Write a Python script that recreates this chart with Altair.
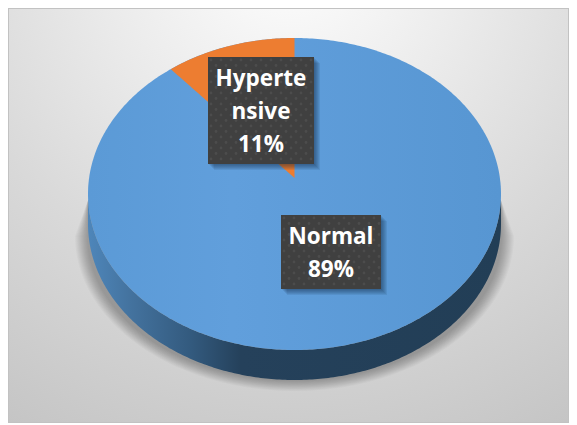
import altair as alt
import numpy as np
import pandas as pd

# --- values
categories = ["Normal", "Hypertensive"]
shares = [89, 11]
label_lines = [["Normal", "89%"], ["Hyperte", "nsive", "11%"]]

# --- layout (page pixels)
LEFT, RIGHT, TOP, BOTTOM = 8, 569, 8, 423
CX, CY, RX, RY, DEPTH = 294.5, 194, 206.5, 156, 30
APEX_Y = 178
FORESHORTEN = 0.93
SHADOW_FLOOR = 391
SHADOW_TOP = 200
SHADOW_WAIST = 236
BOXES = [(281, 381, 215, 289), (208, 314, 57, 164)]
LINE_Y = [[237, 270], [79, 112, 145]]

X = alt.X("x:Q", axis=None, scale=alt.Scale(domain=[LEFT, RIGHT], nice=False, zero=False))
Y = alt.Y("y:Q", axis=None, scale=alt.Scale(domain=[BOTTOM, TOP], nice=False, zero=False))

def grad(stops, **kw):
    return alt.LinearGradient(gradient="linear",
                              stops=[alt.GradientStop(offset=o, color=c) for o, c in stops],
                              x1=0, x2=1, y1=0, y2=0, **kw)

def ellipse_xs(x0=-1.0, x1=1.0, n=240):
    t = np.linspace(np.arccos(x1), np.arccos(x0), n)
    return np.cos(t)

# background
bg = alt.Chart(pd.DataFrame({"x": [LEFT], "x2": [RIGHT], "y": [TOP], "y2": [BOTTOM]})).mark_rect(
    fill=alt.RadialGradient(
        gradient="radial", x1=0.5, y1=0.02, x2=0.5, y2=0.02, r1=0.0, r2=1.0,
        stops=[alt.GradientStop(offset=0, color="#ffffff"),
               alt.GradientStop(offset=0.3, color="#ededed"),
               alt.GradientStop(offset=0.62, color="#d9d9d9"),
               alt.GradientStop(offset=1, color="#c4c4c4")]),
    stroke="#c2c2c2", strokeWidth=2,
).encode(x=X, x2="x2:Q", y=Y, y2="y2:Q")

# soft shadow below the pie
shadow_layers = []
for grow in range(1, 14):
    u = ellipse_xs()
    rx = RX + grow
    dx = np.abs(rx * u)
    yb = np.minimum(SHADOW_WAIST + (RY - 12 + grow * 0.85) * np.sqrt(1 - u ** 2), SHADOW_FLOOR)
    yt = SHADOW_TOP + np.maximum(0, dx - RX) * (SHADOW_WAIST - SHADOW_TOP) / grow
    df = pd.DataFrame({"x": CX + rx * u, "y": yb, "y2": yt})
    shadow_layers.append(alt.Chart(df).mark_area(color="#000000", opacity=0.022).encode(x=X, y=Y, y2="y2:Q"))

# side wall
u = ellipse_xs()
side_df = pd.DataFrame({"x": CX + RX * u,
                        "y": CY + DEPTH + RY * np.sqrt(1 - u ** 2),
                        "y2": CY + RY * np.sqrt(1 - u ** 2)})
side = alt.Chart(side_df).mark_area(
    fill=grad([(0, "#4e86ba"), (0.1, "#44739f"), (0.25, "#335a7e"), (0.37, "#25415b"), (1, "#223e56")])
).encode(x=X, y=Y, y2="y2:Q")

# top face
top_df = pd.DataFrame({"x": CX + RX * u,
                       "y": CY - RY * np.sqrt(1 - u ** 2),
                       "y2": CY + RY * np.sqrt(1 - u ** 2)})
top = alt.Chart(top_df).mark_area(
    fill=grad([(0, "#5b9ad6"), (0.35, "#619fdc"), (1, "#5796d2")])
).encode(x=X, y=Y, y2="y2:Q")

# orange slice, from the top of the pie running counter-clockwise
theta = 2 * np.pi * shares[1] / sum(shares) * FORESHORTEN
u_end = -np.sin(theta)
uw = ellipse_xs(u_end, 0.0, 80)
rim_start = CY - RY * np.sqrt(1 - u_end ** 2)
wedge_df = pd.DataFrame({"x": CX + RX * uw,
                         "y": CY - RY * np.sqrt(1 - uw ** 2),
                         "y2": rim_start + (APEX_Y - rim_start) * (uw - u_end) / (0 - u_end)})
wedge = alt.Chart(wedge_df).mark_area(color="#ed7d31").encode(x=X, y=Y, y2="y2:Q")

# label boxes
layers_boxes = []
for (x0, x1, y0, y1), ys, lines in zip(BOXES, LINE_Y, label_lines):
    for off in range(1, 7):
        sd = pd.DataFrame({"x": [x0 + off], "x2": [x1 + off], "y": [y0 + off], "y2": [y1 + off]})
        layers_boxes.append(alt.Chart(sd).mark_rect(color="#0b2238", opacity=0.09)
                            .encode(x=X, x2="x2:Q", y=Y, y2="y2:Q"))
    bd = pd.DataFrame({"x": [x0], "x2": [x1], "y": [y0], "y2": [y1]})
    layers_boxes.append(alt.Chart(bd).mark_rect(color="#404040").encode(x=X, x2="x2:Q", y=Y, y2="y2:Q"))
    # dotted texture
    rows = []
    for j, yy in enumerate(np.arange(y0 + 3, y1, 5.5)):
        for xx in np.arange(x0 + (3 if j % 2 == 0 else 8), x1 - 1, 10):
            rows.append({"x": float(xx), "y": float(yy)})
    layers_boxes.append(alt.Chart(pd.DataFrame(rows)).mark_circle(color="#4e4e4e", size=8, opacity=0.9)
                        .encode(x=X, y=Y))
    td = pd.DataFrame({"x": [(x0 + x1) / 2] * len(lines), "y": ys, "t": lines})
    layers_boxes.append(alt.Chart(td).mark_text(
        font="Open Sans", fontWeight="bold", fontSize=22.5, color="#ffffff", baseline="middle", align="center"
    ).encode(x=X, y=Y, text="t:N"))

chart = alt.layer(bg, *shadow_layers, side, top, wedge, *layers_boxes).properties(
    width=RIGHT - LEFT, height=BOTTOM - TOP, padding=0,
    autosize=alt.AutoSizeParams(type="none"),
).configure_view(stroke=None)

chart.save("out.html", embed_options={"renderer": "svg", "actions": False})
